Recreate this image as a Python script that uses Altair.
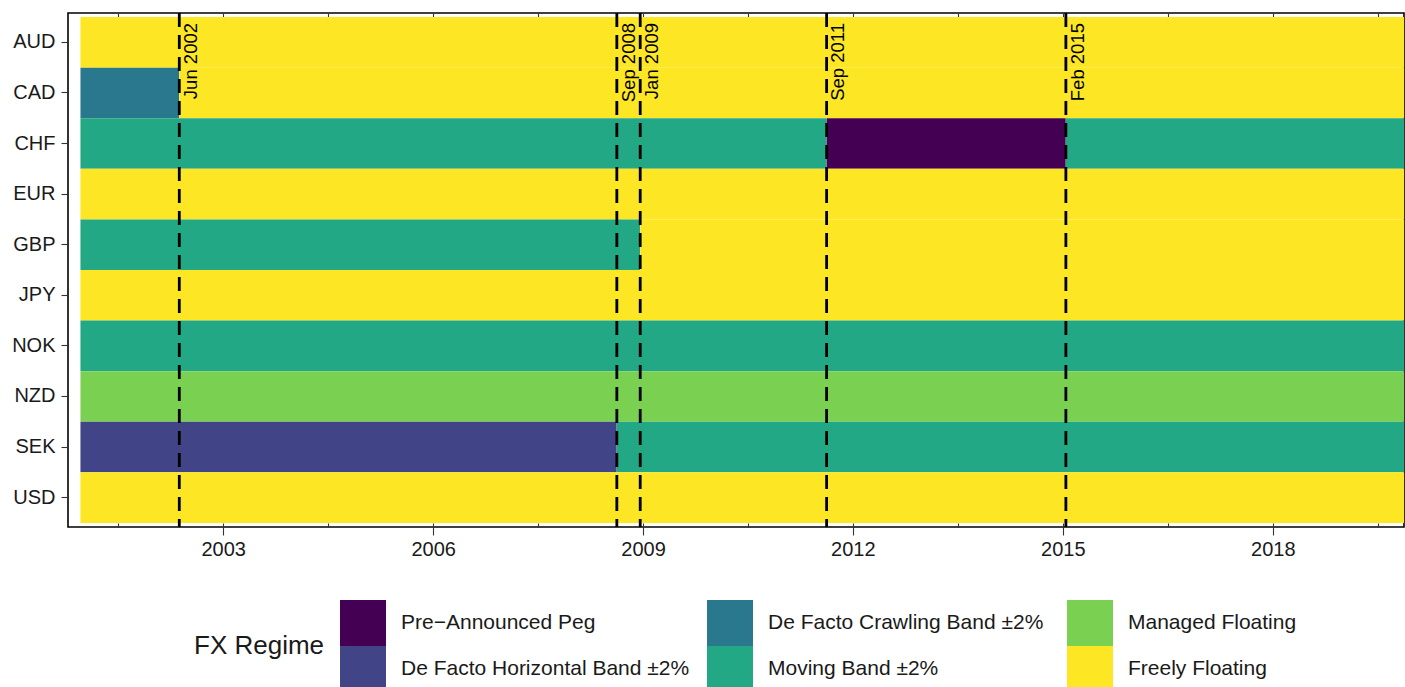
import altair as alt
import pandas as pd

# ---------------- data ----------------
currencies = ["AUD", "CAD", "CHF", "EUR", "GBP", "JPY", "NOK", "NZD", "SEK", "USD"]

regimes = [
    "Pre\u2212Announced Peg",
    "De Facto Horizontal Band \u00b12%",
    "De Facto Crawling Band  \u00b12%",
    "Moving Band \u00b12%",
    "Managed Floating",
    "Freely Floating",
]
regime_colors = ["#440154", "#414487", "#2A788E", "#22A884", "#7AD151", "#FDE725"]

# regime segments (first month, last month inclusive)
seg_currency = ["AUD", "CAD", "CAD", "CHF", "CHF", "CHF", "EUR", "GBP", "GBP",
                "JPY", "NOK", "NZD", "SEK", "SEK", "USD"]
seg_start = ["2001-01", "2001-01", "2002-06", "2001-01", "2011-09", "2015-02", "2001-01",
             "2001-01", "2009-01", "2001-01", "2001-01", "2001-01", "2001-01", "2008-09", "2001-01"]
seg_end = ["2019-12", "2002-05", "2019-12", "2011-08", "2015-01", "2019-12", "2019-12",
           "2008-12", "2019-12", "2019-12", "2019-12", "2019-12", "2008-08", "2019-12", "2019-12"]
seg_regime = [5, 2, 5, 3, 0, 3, 5, 3, 5, 5, 3, 4, 1, 3, 5]

event_months = ["2002-06", "2008-09", "2009-01", "2011-09", "2015-02"]
event_labels = ["Jun 2002", "Sep 2008", "Jan 2009", "Sep 2011", "Feb 2015"]

major_years = [2003, 2006, 2009, 2012, 2015, 2018]
minor_years = [2001, 2004, 2007, 2010, 2013, 2016, 2019]

# ---------------- tables ----------------
half = pd.Timedelta(days=15)  # monthly tiles are centred on the month start
tiles = pd.DataFrame({
    "currency": seg_currency,
    "x0": [pd.Timestamp(s) - half for s in seg_start],
    "x1": [pd.Timestamp(e) + half for e in seg_end],
    "regime": [regimes[i] for i in seg_regime],
})
events = pd.DataFrame({
    "month": [pd.Timestamp(m) for m in event_months],
    "boundary": [pd.Timestamp(m) - half for m in event_months],
    "label": event_labels,
})

tick_values = ([alt.DateTime(year=y, month=1, date=1) for y in major_years] +
               [alt.DateTime(year=y, month=7, date=2) for y in minor_years])

xscale = alt.Scale(domain=[alt.DateTime(year=2000, month=10, date=13),
                           alt.DateTime(year=2019, month=11, date=17)])

FONT = "Liberation Sans"

rects = alt.Chart(tiles).mark_rect(clip=True).encode(
    x=alt.X("x0:T", scale=xscale, title=None,
            axis=alt.Axis(orient="bottom", values=tick_values, format="%Y",
                          labelExpr="month(datum.value) == 0 ? timeFormat(datum.value, '%Y') : ''",
                          offset=-4, domain=False, grid=False,
                          tickSize={"condition": {"test": "month(datum.value) == 0", "value": 12}, "value": 4},
                          tickColor="#333333", tickWidth=1.1,
                          labelFontSize=20, labelColor="#1a1a1a", labelFont=FONT,
                          labelPadding=4)),
    x2="x1:T",
    y=alt.Y("currency:N", sort=currencies, title=None,
            scale=alt.Scale(paddingInner=0, paddingOuter=0.08),
            axis=alt.Axis(domain=False, tickSize=7, tickColor="#333333", tickWidth=1.1,
                          labelPadding=6, labelFontSize=20, labelColor="#1a1a1a",
                          labelFont=FONT)),
    color=alt.Color("regime:N", title="FX Regime",
                    scale=alt.Scale(domain=regimes, range=regime_colors),
                    legend=alt.Legend(orient="none", legendX=126, legendY=587,
                                      columns=3, columnPadding=17, rowPadding=0,
                                      symbolType="square", symbolSize=2116,
                                      symbolStrokeWidth=0, symbolOpacity=1,
                                      labelOffset=15, labelFontSize=21, labelFont=FONT,
                                      labelColor="#1a1a1a", labelLimit=400,
                                      titleOrient="left", titleAnchor="middle",
                                      titleBaseline="middle", titleFontSize=26,
                                      titleFontWeight="normal", titleFont=FONT,
                                      titleColor="#1a1a1a", titlePadding=15,
                                      titleLimit=300, padding=0)),
)

rules = alt.Chart(events).mark_rule(color="black", strokeWidth=2.8, strokeDash=[14, 8]).encode(
    x=alt.X("boundary:T", scale=xscale, title=None,
            axis=alt.Axis(orient="top", values=tick_values, labels=False, domain=False,
                          grid=False, offset=-4, tickSize=4, tickColor="#333333",
                          tickWidth=1.1)),
)

texts = alt.Chart(events).mark_text(angle=270, align="right", baseline="top",
                                    fontSize=18.5, font=FONT, color="black").encode(
    x=alt.X("month:T", scale=xscale, axis=None),
    y=alt.value(10),
    text="label:N",
)

chart = alt.layer(rects, rules, texts).resolve_axis(x="independent").properties(
    width=1336, height=514,
    autosize=alt.AutoSizeParams(type="none"),
    padding={"left": 68, "top": 13, "right": 1, "bottom": 160},
).configure(font=FONT).configure_view(stroke="black", strokeWidth=1.6)

chart.save("out.html", embed_options={"renderer": "svg", "actions": False})
